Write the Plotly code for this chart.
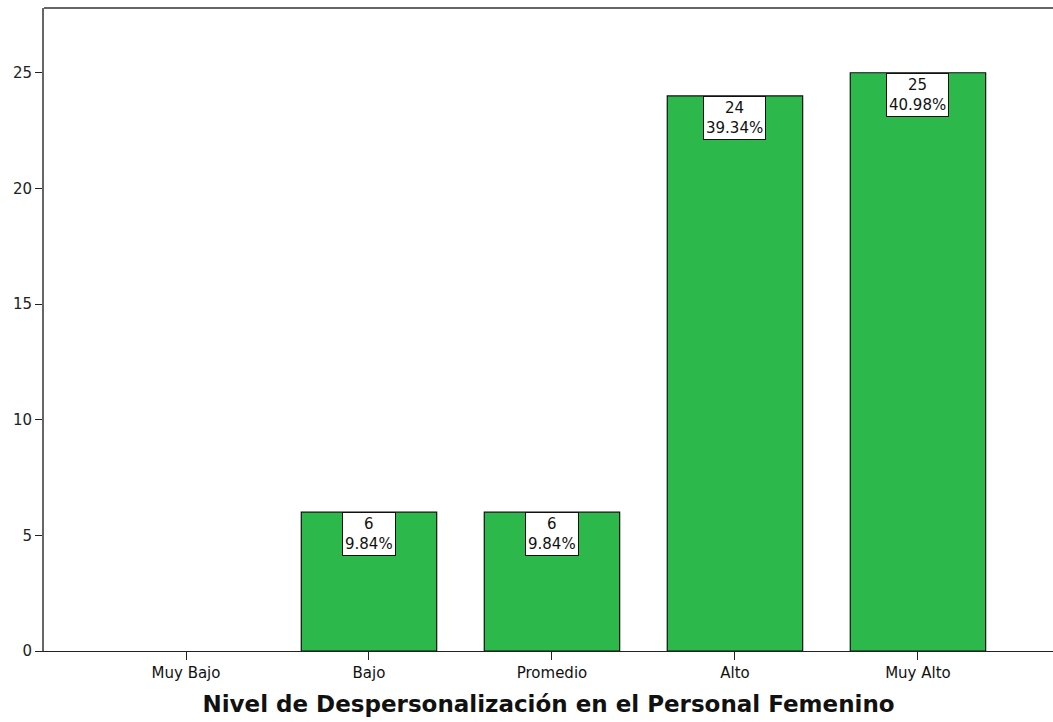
import plotly.graph_objects as go

categories = ["Muy Bajo", "Bajo", "Promedio", "Alto", "Muy Alto"]
counts = [0, 6, 6, 24, 25]
percents = ["", "9.84%", "9.84%", "39.34%", "40.98%"]
y_ticks = [0, 5, 10, 15, 20, 25]
x_title = "Nivel de Despersonalización en el Personal Femenino"

FONT = "DejaVu Sans"

fig = go.Figure()
fig.add_trace(go.Bar(
    x=list(range(len(categories))), y=counts, width=0.74,
    marker=dict(color="#2db84b",
                line=dict(color="#111111", width=[0 if c == 0 else 1.2 for c in counts])),
    hoverinfo="skip", showlegend=False,
))

for i, (c, p) in enumerate(zip(counts, percents)):
    if c > 0:
        fig.add_annotation(
            x=i, y=c, xref="x", yref="y", text=f"{c}<br>{p}", showarrow=False,
            yanchor="top", xanchor="center", align="center",
            bgcolor="white", bordercolor="#111111", borderwidth=1, borderpad=2,
            font=dict(family=FONT, size=15, color="#111111"),
        )

fig.add_shape(type="line", xref="paper", yref="paper", x0=0, x1=1, y0=1, y1=1,
              line=dict(color="#666666", width=2))

fig.update_layout(
    width=1053, height=722,
    margin=dict(l=44, r=0, t=8, b=71),
    paper_bgcolor="white", plot_bgcolor="white",
    font=dict(family=FONT, size=15, color="#111111"),
    xaxis=dict(
        range=[-0.776, 4.738], tickvals=list(range(len(categories))), ticktext=categories,
        showgrid=False, zeroline=False, showline=True, linecolor="#222222", linewidth=1,
        ticks="outside", ticklen=8, tickcolor="#222222", tickwidth=1,
        tickfont=dict(family=FONT, size=15, color="#111111"),
        title=dict(text=f"<b>{x_title}</b>", font=dict(family=FONT, size=23, color="#111111"),
                   standoff=14),
    ),
    yaxis=dict(
        range=[0, 27.8], tickvals=y_ticks, showgrid=False, zeroline=False,
        showline=True, linecolor="#666666", linewidth=2,
        ticks="outside", ticklen=7, tickcolor="#222222", tickwidth=1,
        tickfont=dict(family=FONT, size=15, color="#222222"),
    ),
)

fig.write_html("out.html")
